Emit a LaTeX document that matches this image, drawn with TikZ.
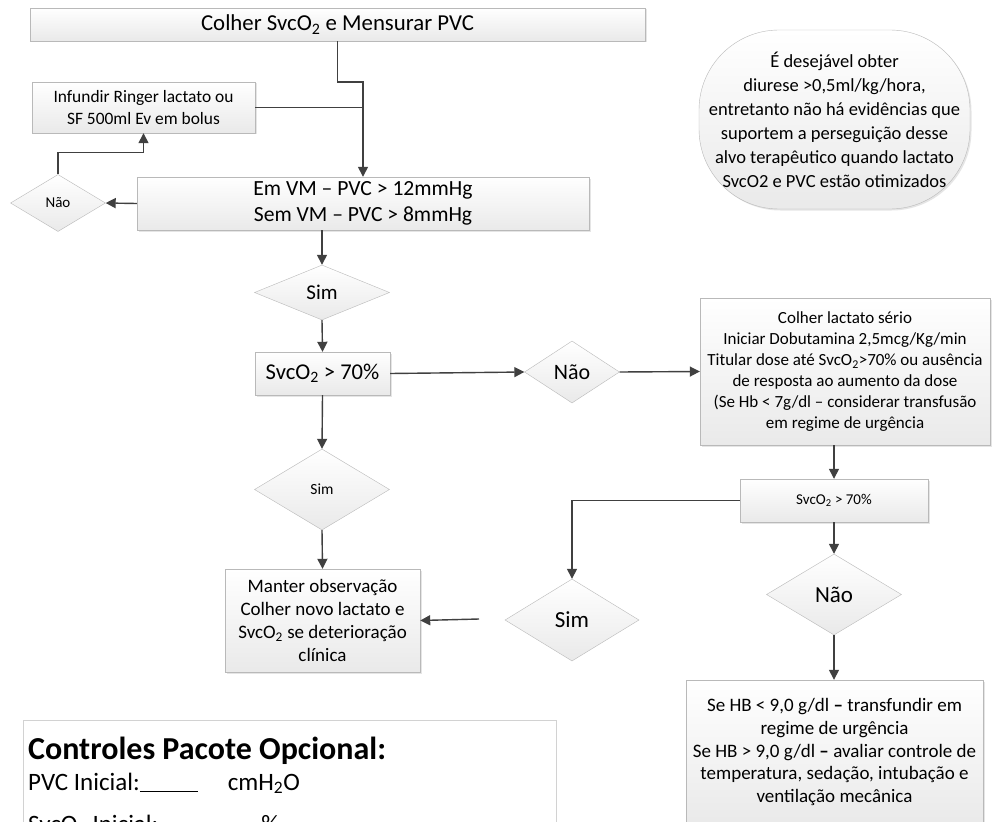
\documentclass[tikz,border=0pt]{standalone}
\usepackage{fontspec}
\setmainfont{Carlito}
\usepackage{tikz}
\usetikzlibrary{shapes.geometric,arrows.meta,shadows}

\begin{document}
\begin{tikzpicture}[x=1pt, y=-1pt,
    caixa/.style={rectangle, draw=gray!55, top color=white, bottom color=gray!17,
      drop shadow={shadow xshift=1.5pt, shadow yshift=-1.5pt, fill=gray!40, opacity=.5},
      align=center, inner sep=2pt},
    losango/.style={diamond, draw=gray!55, top color=white, bottom color=gray!17,
      inner sep=0pt, align=center},
    seta/.style={draw=black!75, line width=1.4pt, -{Triangle[length=10pt,width=10pt]}},
    linha/.style={draw=black!75, line width=1.4pt}]
      \useasboundingbox[fill=white] (0,0) rectangle (992,821);
      \node[caixa, minimum width=615pt, minimum height=33pt, font=\fontsize{22.8}{26}\selectfont] (colher) at (337.5,24.5) {Colher SvcO\textsubscript{2} e Mensurar PVC};
      \node[caixa, minimum width=223pt, minimum height=51pt, font=\fontsize{17.4}{22}\selectfont] (infundir) at (143.5,107.5) {Infundir Ringer lactato ou\\SF 500ml Ev em bolus};
      \node[caixa, minimum width=452pt, minimum height=53pt, font=\fontsize{21.6}{26}\selectfont] (pvc) at (363,203.5) {Em VM -- PVC > 12mmHg\\Sem VM -- PVC > 8mmHg};
      \node[losango, minimum width=95pt, minimum height=57pt, font=\fontsize{15}{18}\selectfont] (nao1) at (58,203) {Não};
      \node[losango, minimum width=135pt, minimum height=55pt, font=\fontsize{21}{25}\selectfont] (sim1) at (322,292.5) {Sim};
      \node[caixa, minimum width=135pt, minimum height=43pt, font=\fontsize{22.6}{27}\selectfont] (svc1) at (322.5,373.5) {SvcO\textsubscript{2} > 70\%};
      \node[losango, minimum width=95pt, minimum height=62pt, font=\fontsize{22}{26}\selectfont] (nao2) at (572,372) {Não};
      \node[caixa, minimum width=290pt, minimum height=147pt, font=\fontsize{17}{21}\selectfont] (lactato) at (845,371.5) {Colher lactato sério\\Iniciar Dobutamina 2,5mcg/Kg/min\\Titular dose até SvcO\textsubscript{2}>70\% ou ausência\\de resposta ao aumento da dose\\(Se Hb < 7g/dl -- considerar transfusão\\em regime de urgência};
      \node[caixa, minimum width=188pt, minimum height=43pt, font=\fontsize{15}{18}\selectfont] (svc2) at (834,500.5) {SvcO\textsubscript{2} > 70\%};
      \node[losango, minimum width=135pt, minimum height=81pt, font=\fontsize{15.5}{18}\selectfont] (sim2) at (322,489.5) {Sim};
      \node[losango, minimum width=134pt, minimum height=82pt, font=\fontsize{23}{27}\selectfont] (sim3) at (572,620) {Sim};
      \node[losango, minimum width=135pt, minimum height=81pt, font=\fontsize{23}{27}\selectfont] (nao3) at (834,594.5) {Não};
      \node[caixa, minimum width=195pt, minimum height=103pt, font=\fontsize{19}{23}\selectfont] (manter) at (322.5,620.5) {Manter observação\\Colher novo lactato e\\SvcO\textsubscript{2} se deterioração\\clínica};
      \node[caixa, minimum width=297pt, minimum height=144pt, font=\fontsize{19}{22.6}\selectfont] (hb) at (834.5,752) {Se HB < 9,0 g/dl \textbf{--} transfundir em\\regime de urgência\\Se HB > 9,0 g/dl \textbf{--} avaliar controle de\\temperatura, sedação, intubação e\\ventilação mecânica};
      \node[caixa, rounded corners=80pt, minimum width=271pt, minimum height=179pt, font=\fontsize{18.5}{24}\selectfont] (nota) at (834.5,119.5) {É desejável obter\\diurese >0,5ml/kg/hora,\\entretanto não há evidências que\\suportem a perseguição desse\\alvo terapêutico quando lactato\\SvcO2 e PVC estão otimizados};
      \node[draw=gray!35, fill=white, anchor=north west, minimum width=533pt, minimum height=140pt] (controles) at (23,720) {};
      \node[anchor=base west, inner sep=0pt, font=\fontsize{32}{36}\bfseries] (titulo) at (28,759) {Controles Pacote Opcional:};
      \node[anchor=base west, inner sep=0pt, font=\fontsize{25}{29}\selectfont] (pvcinicial) at (28,790) {PVC Inicial:\underline{\hspace{58pt}}\hspace{30pt}cmH\textsubscript{2}O};
      \node[anchor=base west, inner sep=0pt, font=\fontsize{25}{29}\selectfont] (svcinicial) at (28,832) {SvcO\textsubscript{2} Inicial:\underline{\hspace{58pt}}\hspace{45pt}\%};
      \coordinate (retorno) at (479,619);
      \draw[seta] (colher.south) -- ++(0,41) -| (pvc.north);
      \draw[linha] (infundir.east) -- (infundir.east -| pvc.north);
      \draw[seta] (pvc.west) -- (nao1.east);
      \draw[seta] (nao1.north) -- ++(0,-22) -| (infundir.south);
      \draw[seta] (sim1.north |- pvc.south) -- (sim1.north);
      \draw[seta] (sim1.south) -- (svc1.north);
      \draw[seta] (svc1.east) -- (nao2.west);
      \draw[seta] (nao2.east) -- (lactato.west);
      \draw[seta] (svc2.north |- lactato.south) -- (svc2.north);
      \draw[seta] (svc1.south) -- (sim2.north);
      \draw[seta] (sim2.south) -- (manter.north);
      \draw[seta] (svc2.west) -| (sim3.north);
      \draw[seta] (svc2.south) -- (nao3.north);
      \draw[seta] (nao3.south) -- (nao3.south |- hb.north);
      \draw[seta] (retorno) -- (manter.east);
\end{tikzpicture}
\end{document}
